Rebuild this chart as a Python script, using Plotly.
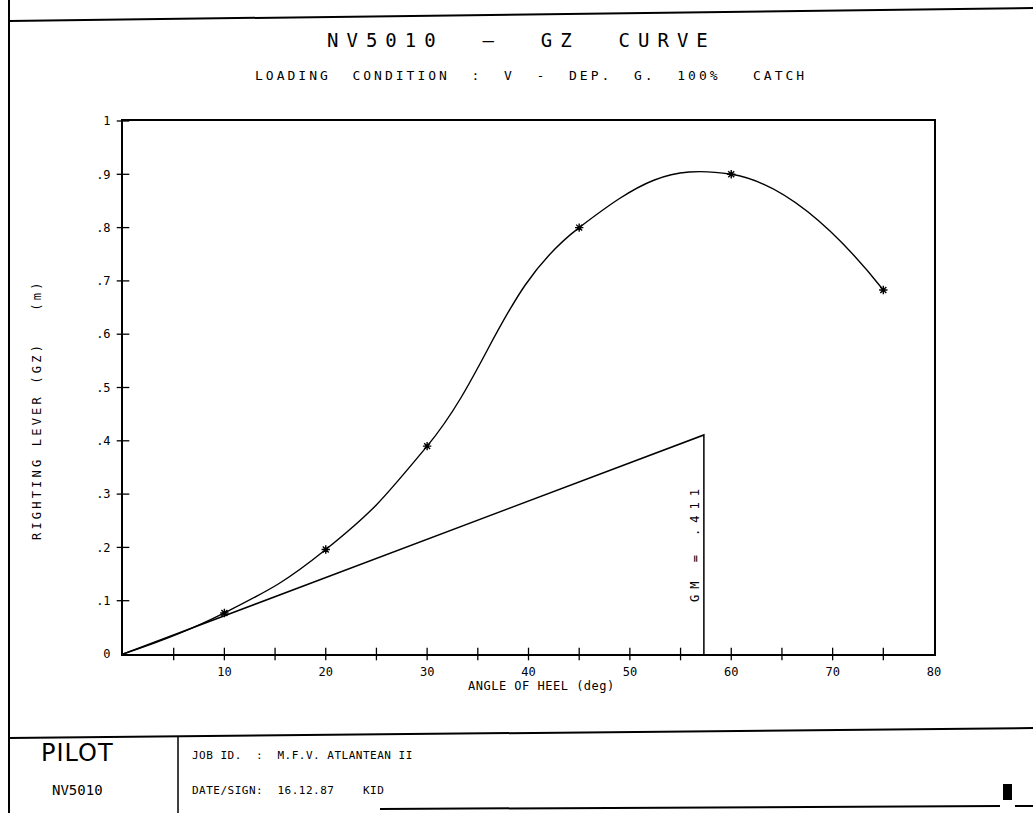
import plotly.graph_objects as go

# ---------------- data ----------------
angles = [0, 10, 20, 30, 45, 60, 75]          # angle of heel (deg)
gz = [0.0, 0.077, 0.196, 0.39, 0.80, 0.90, 0.683]  # righting lever (m)
marked_angles = [10, 20, 30, 45, 60, 75]
marked_gz = [0.077, 0.196, 0.39, 0.80, 0.90, 0.683]

gm_value = 0.411
gm_angle = 57.3  # one radian in degrees

x_tick_vals = [10, 20, 30, 40, 50, 60, 70, 80]
x_tick_text = ["10", "20", "30", "40", "50", "60", "70", "80"]
x_minor_ticks = [5, 10, 15, 20, 25, 30, 35, 40, 45, 50, 55, 60, 65, 70, 75]
y_tick_vals = [0, 0.1, 0.2, 0.3, 0.4, 0.5, 0.6, 0.7, 0.8, 0.9, 1.0]
y_tick_text = ["0", ".1", ".2", ".3", ".4", ".5", ".6", ".7", ".8", ".9", "1"]

# ---------------- layout geometry ----------------
W, H = 1033, 813
L, R, T, B = 123, 934, 121, 654
PW, PH = R - L, B - T

def px(x):
    return (x - L) / PW

def py(y):
    return (B - y) / PH

FONT = "DejaVu Sans Mono"
NB = "\u00a0"

def sp(text, ls):
    return f"<span style='letter-spacing:{ls}px'>{text.replace(' ', NB)}</span>"

fig = go.Figure()

# GZ curve
fig.add_trace(go.Scatter(
    x=angles, y=gz, mode="lines",
    line=dict(color="black", width=1.4, shape="spline", smoothing=1.3),
    hoverinfo="skip", showlegend=False,
))
# point markers
fig.add_trace(go.Scatter(
    x=marked_angles, y=marked_gz, mode="markers",
    marker=dict(symbol="asterisk-open", size=7, color="black",
                line=dict(color="black", width=1.4)),
    showlegend=False,
))
# GM tangent line and vertical at one radian
fig.add_trace(go.Scatter(
    x=[0, gm_angle, gm_angle], y=[0, gm_value, 0], mode="lines",
    line=dict(color="black", width=1.5),
    hoverinfo="skip", showlegend=False,
))
# cross-style ticks on axes
fig.add_trace(go.Scatter(
    x=x_minor_ticks, y=[0] * len(x_minor_ticks), mode="markers",
    marker=dict(symbol="line-ns", size=9, line=dict(color="black", width=1.3)),
    cliponaxis=False, hoverinfo="skip", showlegend=False,
))
fig.add_trace(go.Scatter(
    x=[0] * (len(y_tick_vals) - 1), y=y_tick_vals[1:], mode="markers",
    marker=dict(symbol="line-ew", size=9, line=dict(color="black", width=1.3)),
    cliponaxis=False, hoverinfo="skip", showlegend=False,
))

fig.update_xaxes(
    range=[0, 80], showline=True, linecolor="black", linewidth=2, mirror=True,
    showgrid=False, zeroline=False, ticks="", tickvals=x_tick_vals,
    ticktext=x_tick_text, ticklabelstandoff=6,
    tickfont=dict(family=FONT, size=12, color="black"),
)
fig.update_yaxes(
    range=[0, 1], showline=True, linecolor="black", linewidth=2, mirror=True,
    showgrid=False, zeroline=False, ticks="", tickvals=y_tick_vals,
    ticktext=y_tick_text, ticklabelstandoff=8,
    tickfont=dict(family=FONT, size=12, color="black"),
)

annotations = [
    dict(x=px(521), y=py(40), text=sp("NV5010  —  GZ  CURVE", 8),
         font=dict(family=FONT, size=19, color="black")),
    dict(x=px(531), y=py(75), text=sp("LOADING  CONDITION  :  V  -  DEP.  G.  100%   CATCH", 3),
         font=dict(family=FONT, size=13, color="black")),
    dict(x=px(541), y=py(686), text=sp("ANGLE OF HEEL (deg)", 0.5),
         font=dict(family=FONT, size=12, color="black")),
    dict(x=px(37), y=py(410), text=sp("RIGHTING LEVER (GZ)   (m)", 3.2), textangle=-90,
         font=dict(family=FONT, size=12, color="black")),
    dict(x=px(695), y=py(543), text=sp("GM = .411", 6), textangle=-90,
         font=dict(family=FONT, size=12, color="black")),
    dict(x=px(77), y=py(753), text=sp("PILOT", 1),
         font=dict(family="DejaVu Sans", size=24, color="black")),
    dict(x=px(77), y=py(790), text="NV5010",
         font=dict(family=FONT, size=14, color="black")),
    dict(x=px(190), y=py(755), xanchor="left",
         text=sp("JOB ID.  :  M.F.V. ATLANTEAN II", 0.5),
         font=dict(family=FONT, size=11, color="black")),
    dict(x=px(190), y=py(790), xanchor="left",
         text=sp("DATE/SIGN:  16.12.87    KID", 0.5),
         font=dict(family=FONT, size=11, color="black")),
]
for a in annotations:
    a.setdefault("xanchor", "center")
    a.update(xref="paper", yref="paper", yanchor="middle", showarrow=False)

line = dict(color="black", width=2)
shapes = [
    dict(type="line", x0=px(9), y0=py(0), x1=px(9), y1=py(813), line=line),
    dict(type="line", x0=px(9), y0=py(21), x1=px(1033), y1=py(8), line=line),
    dict(type="line", x0=px(9), y0=py(738), x1=px(1033), y1=py(728), line=line),
    dict(type="line", x0=px(178), y0=py(737), x1=px(178), y1=py(813), line=dict(color="black", width=1.5)),
    dict(type="line", x0=px(380), y0=py(809), x1=px(1000), y1=py(806), line=line),
    dict(type="line", x0=px(1015), y0=py(806), x1=px(1033), y1=py(806), line=line),
    dict(type="rect", x0=px(1003), y0=py(784), x1=px(1012), y1=py(800),
         fillcolor="black", line=dict(color="black", width=0)),
]
for s in shapes:
    s.update(xref="paper", yref="paper")

fig.update_layout(
    width=W, height=H,
    margin=dict(l=L, r=W - R, t=T, b=H - B),
    plot_bgcolor="white", paper_bgcolor="white",
    annotations=annotations, shapes=shapes,
    showlegend=False,
)

fig.write_html("out.html")
